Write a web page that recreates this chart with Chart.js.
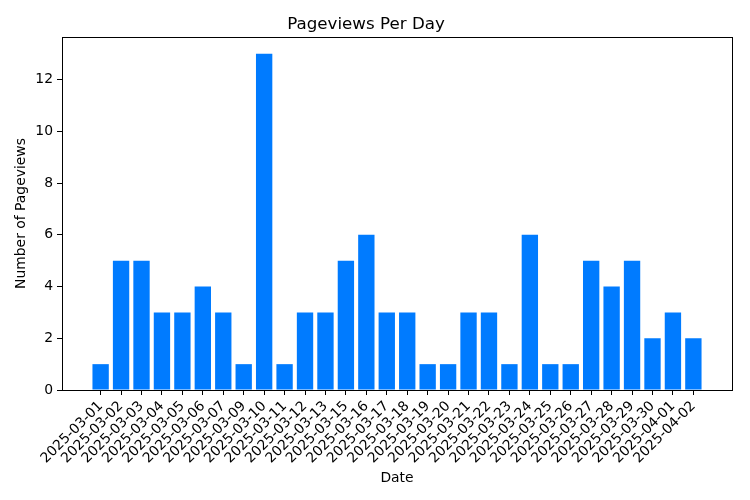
<!DOCTYPE html>
<html>
<head>
<meta charset="utf-8">
<title>Pageviews Per Day</title>
<script src="https://cdn.jsdelivr.net/npm/chart.js@4.4.1/dist/chart.umd.min.js"></script>
<style>
  html, body { margin: 0; padding: 0; background: #fff; }
  #wrap { width: 750px; height: 500px; }
</style>
</head>
<body>
<div id="wrap"><canvas id="pageviews-chart" width="750" height="500"></canvas></div>
<script>
const dates = [
  '2025-03-01', '2025-03-02', '2025-03-03', '2025-03-04', '2025-03-05', '2025-03-06',
  '2025-03-07', '2025-03-09', '2025-03-10', '2025-03-11', '2025-03-12', '2025-03-13',
  '2025-03-15', '2025-03-16', '2025-03-17', '2025-03-18', '2025-03-19', '2025-03-20',
  '2025-03-21', '2025-03-22', '2025-03-23', '2025-03-24', '2025-03-25', '2025-03-26',
  '2025-03-27', '2025-03-28', '2025-03-29', '2025-03-30', '2025-04-01', '2025-04-02'
];
const pageviews = [1, 5, 5, 3, 3, 4, 3, 1, 13, 1, 3, 3, 5, 6, 3, 3, 1, 1, 3, 3, 1, 6, 1, 1, 5, 4, 5, 2, 3, 2];
const yTicks = [0, 2, 4, 6, 8, 10, 12];

const FONT = 'DejaVu Sans';

// matplotlib-style box around the plot area
const frameBox = {
  id: 'frameBox',
  afterDraw(chart) {
    const { ctx, chartArea: a } = chart;
    ctx.save();
    ctx.strokeStyle = '#000';
    ctx.lineWidth = 1;
    ctx.strokeRect(Math.round(a.left) + 0.5, Math.round(a.top) + 0.5,
      Math.round(a.right - a.left), Math.round(a.bottom - a.top));
    ctx.restore();
  }
};

new Chart(document.getElementById('pageviews-chart'), {
  type: 'bar',
  data: {
    datasets: [{
      label: 'Pageviews',
      data: pageviews.map((v, i) => ({ x: i, y: v })),
      backgroundColor: '#007bff',
      borderWidth: 0,
      barPercentage: 0.8,
      categoryPercentage: 1.0
    }]
  },
  options: {
    responsive: false,
    animation: false,
    devicePixelRatio: 1,
    layout: { padding: { left: 0, right: 18, top: 0, bottom: 0 } },
    plugins: {
      legend: { display: false },
      tooltip: { enabled: false },
      title: {
        display: true,
        text: 'Pageviews Per Day',
        color: '#000',
        font: { family: FONT, size: 16.7, weight: 'normal' },
        padding: { top: 15, bottom: 2 }
      }
    },
    scales: {
      x: {
        type: 'linear',
        min: -1.89,
        max: 30.89,
        offset: false,
        grid: { display: true, drawOnChartArea: false, drawTicks: true, tickLength: 5, color: '#000', offset: false },
        border: { display: false },
        afterBuildTicks: scale => { scale.ticks = dates.map((d, i) => ({ value: i })); },
        afterFit: scale => { scale.height = 110; },
        ticks: {
          autoSkip: false,
          minRotation: 45,
          maxRotation: 45,
          padding: 3,
          color: '#000',
          font: { family: FONT, size: 13.9 },
          callback: v => dates[v]
        },
        title: {
          display: true,
          text: 'Date',
          color: '#000',
          font: { family: FONT, size: 13.9 },
          padding: { top: 0, bottom: 13 }
        }
      },
      y: {
        min: 0,
        max: 13.65,
        grid: { display: true, drawOnChartArea: false, drawTicks: true, tickLength: 5, color: '#000' },
        border: { display: false },
        afterBuildTicks: scale => { scale.ticks = yTicks.map(v => ({ value: v })); },
        afterFit: scale => { scale.width = 62; },
        ticks: {
          padding: 4,
          color: '#000',
          font: { family: FONT, size: 13.9 }
        },
        title: {
          display: true,
          text: 'Number of Pageviews',
          color: '#000',
          font: { family: FONT, size: 13.9 },
          padding: { top: 13, bottom: 0 }
        }
      }
    }
  },
  plugins: [frameBox]
});
</script>
</body>
</html>
